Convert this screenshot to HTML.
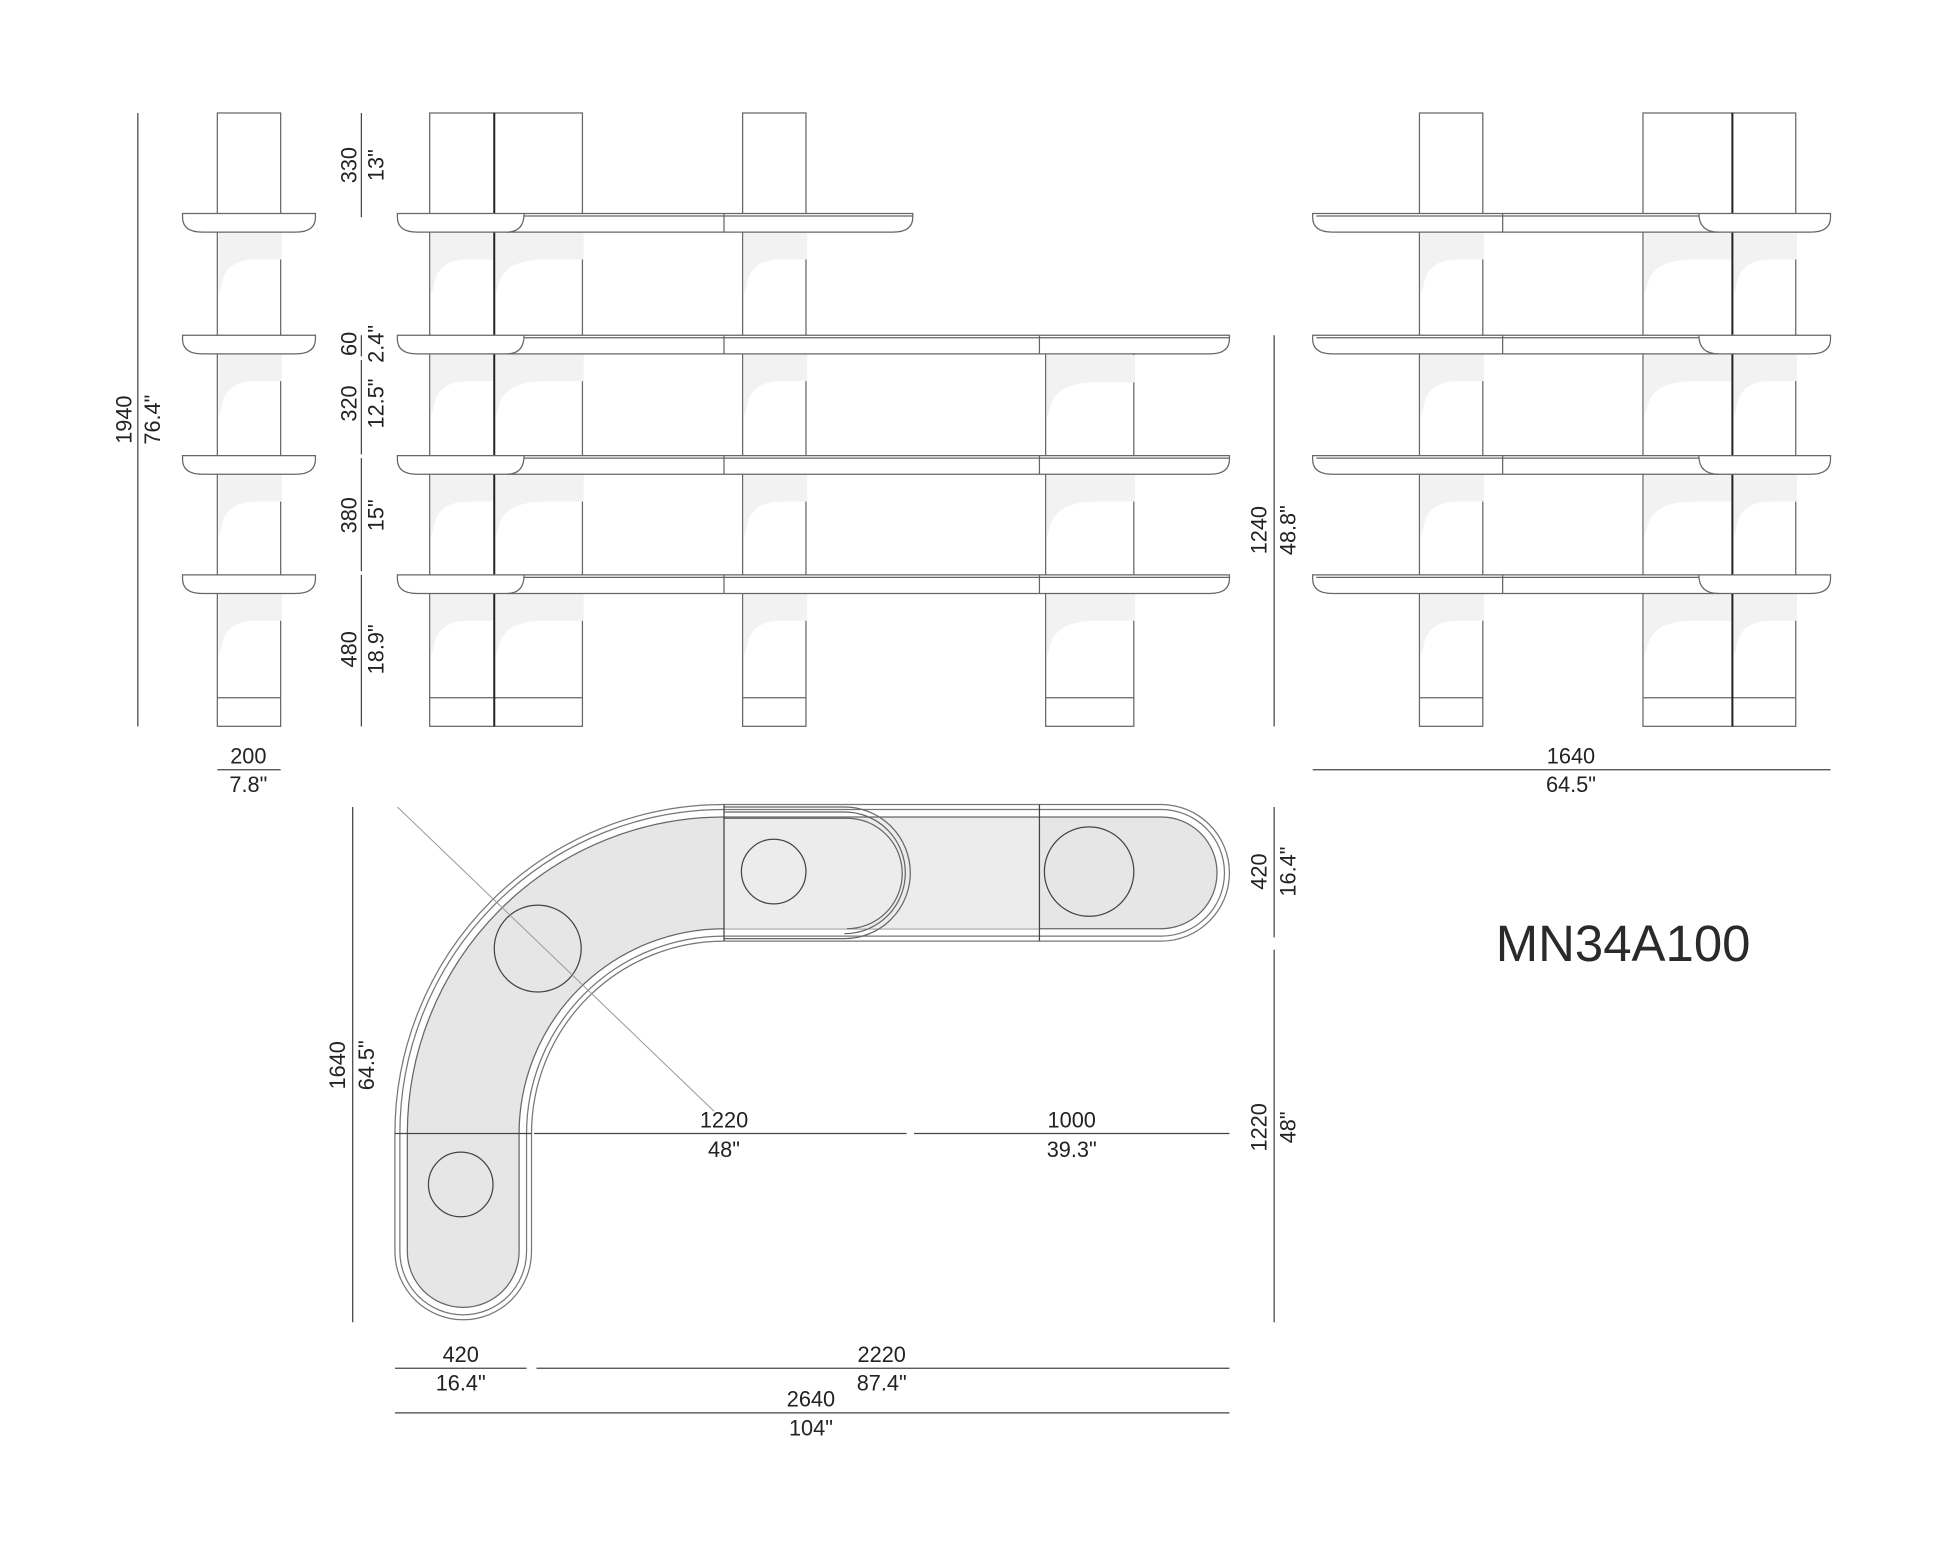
<!DOCTYPE html>
<html><head><meta charset="utf-8"><style>
html,body{margin:0;padding:0;background:#fff}
svg{display:block}
text{font-family:"Liberation Sans",sans-serif;fill:#222;font-size:17.5px}
</style></head><body>
<svg width="1946" height="1547" viewBox="0 0 1567 1246" preserveAspectRatio="none" xmlns="http://www.w3.org/2000/svg">
<defs>
<path id="s51" d="M0 0 H51 V22 H30 Q4 22 2 45 L0 50 Z" fill="#f2f2f2"/>
<path id="s71" d="M0 0 H71 V22 H40 Q5 22 2 45 L0 50 Z" fill="#f2f2f2"/>
</defs>
<g fill="#fff" stroke="#666" stroke-width="1">
<rect x="175" y="91" width="51" height="494"/>
<rect x="346" y="91" width="52" height="494"/>
<rect x="398" y="91" width="71" height="494"/>
<rect x="598" y="91" width="51" height="494"/>
<rect x="842" y="285" width="71" height="300"/>
<rect x="1143" y="91" width="51" height="494"/>
<rect x="1323" y="91" width="72" height="494"/>
<rect x="1395" y="91" width="51" height="494"/>
</g>
<g>
<use href="#s51" x="176" y="187"/><use href="#s51" x="176" y="285"/><use href="#s51" x="176" y="382"/><use href="#s51" x="176" y="478"/>
<use href="#s51" x="347" y="187"/><use href="#s51" x="347" y="285"/><use href="#s51" x="347" y="382"/><use href="#s51" x="347" y="478"/>
<use href="#s71" x="399" y="187"/><use href="#s71" x="399" y="285"/><use href="#s71" x="399" y="382"/><use href="#s71" x="399" y="478"/>
<use href="#s51" x="599" y="187"/><use href="#s51" x="599" y="285"/><use href="#s51" x="599" y="382"/><use href="#s51" x="599" y="478"/>
<use href="#s71" x="843" y="286"/><use href="#s71" x="843" y="382"/><use href="#s71" x="843" y="478"/>
<use href="#s51" x="1144" y="187"/><use href="#s51" x="1144" y="285"/><use href="#s51" x="1144" y="382"/><use href="#s51" x="1144" y="478"/>
<use href="#s71" x="1324" y="187"/><use href="#s71" x="1324" y="285"/><use href="#s71" x="1324" y="382"/><use href="#s71" x="1324" y="478"/>
<use href="#s51" x="1396" y="187"/><use href="#s51" x="1396" y="285"/><use href="#s51" x="1396" y="382"/><use href="#s51" x="1396" y="478"/>
</g>
<g stroke="#666" stroke-width="1" fill="none">
<line x1="175" y1="562" x2="226" y2="562"/>
<line x1="346" y1="562" x2="469" y2="562"/>
<line x1="598" y1="562" x2="649" y2="562"/>
<line x1="842" y1="562" x2="913" y2="562"/>
<line x1="1143" y1="562" x2="1194" y2="562"/>
<line x1="1323" y1="562" x2="1446" y2="562"/>
</g>
<g stroke="#222" stroke-width="1.6">
<line x1="398" y1="91" x2="398" y2="585"/>
<line x1="1395" y1="91" x2="1395" y2="585"/>
</g>
<g fill="#fff" stroke="#666" stroke-width="1">
<path d="M147 172 H254 V175 Q254 187 238 187 H163 Q147 187 147 175 Z"/>
<path d="M147 270 H254 V273 Q254 285 238 285 H163 Q147 285 147 273 Z"/>
<path d="M147 367 H254 V370 Q254 382 238 382 H163 Q147 382 147 370 Z"/>
<path d="M147 463 H254 V466 Q254 478 238 478 H163 Q147 478 147 466 Z"/>
<path d="M320 172 H735 V175 Q735 187 719 187 H336 Q320 187 320 175 Z"/>
<path d="M320 270 H990 V273 Q990 285 974 285 H336 Q320 285 320 273 Z"/>
<path d="M320 367 H990 V370 Q990 382 974 382 H336 Q320 382 320 370 Z"/>
<path d="M320 463 H990 V466 Q990 478 974 478 H336 Q320 478 320 466 Z"/>
<path d="M1057 172 H1474 V175 Q1474 187 1458 187 H1073 Q1057 187 1057 175 Z"/>
<path d="M1057 270 H1474 V273 Q1474 285 1458 285 H1073 Q1057 285 1057 273 Z"/>
<path d="M1057 367 H1474 V370 Q1474 382 1458 382 H1073 Q1057 382 1057 370 Z"/>
<path d="M1057 463 H1474 V466 Q1474 478 1458 478 H1073 Q1057 478 1057 466 Z"/>
</g>
<g stroke="#666" stroke-width="1" fill="none">
<path d="M422 172 Q422 187 408 187 M422 174 H735 M583 172 V187"/>
<path d="M422 270 Q422 285 408 285 M422 272 H990 M583 270 V285 M837 270 V285"/>
<path d="M422 367 Q422 382 408 382 M422 369 H990 M583 367 V382 M837 367 V382"/>
<path d="M422 463 Q422 478 408 478 M422 465 H990 M583 463 V478 M837 463 V478"/>
<path d="M1060 174 H1368 M1210 172 V187 M1368 172 Q1368 187 1384 187"/>
<path d="M1060 272 H1368 M1210 270 V285 M1368 270 Q1368 285 1384 285"/>
<path d="M1060 369 H1368 M1210 367 V382 M1368 367 Q1368 382 1384 382"/>
<path d="M1060 465 H1368 M1210 463 V478 M1368 463 Q1368 478 1384 478"/>
</g>
<g stroke="#444" stroke-width="1">
<line x1="111" y1="91" x2="111" y2="585"/>
<line x1="175" y1="620" x2="226" y2="620"/>
<line x1="291" y1="91" x2="291" y2="175"/>
<line x1="291" y1="270" x2="291" y2="287"/>
<line x1="291" y1="290" x2="291" y2="366"/>
<line x1="291" y1="369" x2="291" y2="460"/>
<line x1="291" y1="463" x2="291" y2="585"/>
<line x1="1026" y1="270" x2="1026" y2="585"/>
<line x1="1057" y1="620" x2="1474" y2="620"/>
<line x1="284" y1="650" x2="284" y2="1065"/>
<line x1="1026" y1="650" x2="1026" y2="755"/>
<line x1="1026" y1="765" x2="1026" y2="1065"/>
<line x1="430" y1="913" x2="730" y2="913"/>
<line x1="736" y1="913" x2="990" y2="913"/>
<line x1="318" y1="1102" x2="424" y2="1102"/>
<line x1="432" y1="1102" x2="990" y2="1102"/>
<line x1="318" y1="1138" x2="990" y2="1138"/>
</g>
<g fill="none" stroke-linecap="round">
<path d="M935 703 H583 A210 210 0 0 0 373 913 V1008" stroke="#777" stroke-width="111"/>
<path d="M935 703 H583 A210 210 0 0 0 373 913 V1008" stroke="#fff" stroke-width="109"/>
<path d="M935 703 H583 A210 210 0 0 0 373 913 V1008" stroke="#777" stroke-width="103"/>
<path d="M935 703 H583 A210 210 0 0 0 373 913 V1008" stroke="#fff" stroke-width="101"/>
<path d="M935 703 H583 A210 210 0 0 0 373 913 V1008" stroke="#666" stroke-width="91"/>
<path d="M935 703 H583 A210 210 0 0 0 373 913 V1008" stroke="#e6e6e6" stroke-width="89"/>
</g>
<path d="M583 659 H837 V748 H583 Z" fill="#ececec"/>
<g fill="none" stroke="#666" stroke-width="1">
<path d="M583 650 H680 A53 53 0 0 1 680 756 H583"/>
<path d="M583 654 H680 A49 49 0 0 1 680 752"/>
<path d="M583 659 H682 A44.5 44.5 0 0 1 682 748"/>
</g>
<g stroke="#444" stroke-width="1" fill="none">
<line x1="583" y1="648" x2="583" y2="758"/>
<line x1="837" y1="648" x2="837" y2="758"/>
<line x1="318" y1="913" x2="428" y2="913"/>
<circle cx="623" cy="702" r="26"/>
<circle cx="877" cy="702" r="36"/>
<circle cx="433" cy="764" r="35"/>
<circle cx="371" cy="954" r="26"/>
</g>
<line x1="320" y1="650" x2="575" y2="895" stroke="#999" stroke-width="0.8"/>
<g>
<text transform="translate(106,338) rotate(-90)" text-anchor="middle">1940</text>
<text transform="translate(129,338) rotate(-90)" text-anchor="middle">76.4"</text>
<text x="200" y="615" text-anchor="middle">200</text>
<text x="200" y="638" text-anchor="middle">7.8"</text>
<text transform="translate(287,133) rotate(-90)" text-anchor="middle">330</text>
<text transform="translate(309,133) rotate(-90)" text-anchor="middle">13"</text>
<text transform="translate(287,277) rotate(-90)" text-anchor="middle">60</text>
<text transform="translate(309,277) rotate(-90)" text-anchor="middle">2.4"</text>
<text transform="translate(287,325) rotate(-90)" text-anchor="middle">320</text>
<text transform="translate(309,325) rotate(-90)" text-anchor="middle">12.5"</text>
<text transform="translate(287,415) rotate(-90)" text-anchor="middle">380</text>
<text transform="translate(309,415) rotate(-90)" text-anchor="middle">15"</text>
<text transform="translate(287,523) rotate(-90)" text-anchor="middle">480</text>
<text transform="translate(309,523) rotate(-90)" text-anchor="middle">18.9"</text>
<text transform="translate(1020,427) rotate(-90)" text-anchor="middle">1240</text>
<text transform="translate(1043,427) rotate(-90)" text-anchor="middle">48.8"</text>
<text x="1265" y="615" text-anchor="middle">1640</text>
<text x="1265" y="638" text-anchor="middle">64.5"</text>
<text transform="translate(278,858) rotate(-90)" text-anchor="middle">1640</text>
<text transform="translate(301,858) rotate(-90)" text-anchor="middle">64.5"</text>
<text transform="translate(1020,702) rotate(-90)" text-anchor="middle">420</text>
<text transform="translate(1043,702) rotate(-90)" text-anchor="middle">16.4"</text>
<text transform="translate(1020,908) rotate(-90)" text-anchor="middle">1220</text>
<text transform="translate(1043,908) rotate(-90)" text-anchor="middle">48"</text>
<text x="583" y="908" text-anchor="middle">1220</text>
<text x="583" y="932" text-anchor="middle">48"</text>
<text x="863" y="908" text-anchor="middle">1000</text>
<text x="863" y="932" text-anchor="middle">39.3"</text>
<text x="371" y="1097" text-anchor="middle">420</text>
<text x="371" y="1120" text-anchor="middle">16.4"</text>
<text x="710" y="1097" text-anchor="middle">2220</text>
<text x="710" y="1120" text-anchor="middle">87.4"</text>
<text x="653" y="1133" text-anchor="middle">2640</text>
<text x="653" y="1156" text-anchor="middle">104"</text>
<text x="1307" y="774" text-anchor="middle" style="font-size:41px;fill:#2a2a2a">MN34A100</text>
</g>
</svg>
</body></html>
